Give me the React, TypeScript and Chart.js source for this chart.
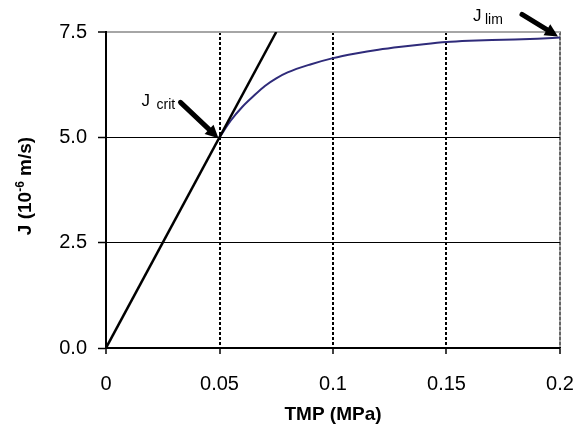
import React, { useEffect, useRef } from 'react';
import { Chart, registerables } from 'chart.js';

Chart.register(...registerables);

// ---- data ----
const xTickLabels = ['0', '0.05', '0.1', '0.15', '0.2'];
const yTickLabels = ['0.0', '2.5', '5.0', '7.5'];

const tangentTmp = [0, 0.075];
const tangentJ = [0, 7.5];

const fluxTmp = [0.05, 0.055, 0.06, 0.065, 0.07, 0.075, 0.08, 0.09, 0.1, 0.11, 0.12, 0.13, 0.14, 0.15, 0.16, 0.17, 0.18, 0.19, 0.2];
const fluxJ = [5.0, 5.4, 5.72, 5.98, 6.22, 6.4, 6.54, 6.73, 6.88, 6.99, 7.08, 7.15, 7.21, 7.26, 7.29, 7.31, 7.32, 7.34, 7.37];

const critTmp = 0.05;
const critJ = 5.0;
const limTmp = 0.2;
const limJ = 7.37;

const xTitle = 'TMP (MPa)';
const yTitleParts = ['J (10', '-6', ' m/s)'];
const critLabel = ['J', 'crit'];
const limLabel = ['J', 'lim'];

const FONT = "'Liberation Sans', Arial, sans-serif";

function drawArrow(ctx: CanvasRenderingContext2D, x1: number, y1: number, x2: number, y2: number) {
  const ang = Math.atan2(y2 - y1, x2 - x1);
  const head = 13;
  const hw = 6.5;
  const bx = x2 - head * Math.cos(ang);
  const by = y2 - head * Math.sin(ang);
  ctx.save();
  ctx.strokeStyle = '#000';
  ctx.fillStyle = '#000';
  ctx.lineWidth = 5;
  ctx.lineCap = 'round';
  ctx.beginPath();
  ctx.moveTo(x1, y1);
  ctx.lineTo(bx, by);
  ctx.stroke();
  ctx.beginPath();
  ctx.moveTo(x2, y2);
  ctx.lineTo(bx + hw * Math.sin(ang), by - hw * Math.cos(ang));
  ctx.lineTo(bx - hw * Math.sin(ang), by + hw * Math.cos(ang));
  ctx.closePath();
  ctx.fill();
  ctx.restore();
}

const decorPlugin = {
  id: 'decor',
  beforeDraw(chart: any) {
    const { ctx, chartArea } = chart;
    const { left, top, right, bottom } = chartArea;
    ctx.save();
    ctx.strokeStyle = '#a6a6a6';
    ctx.lineWidth = 2;
    ctx.beginPath();
    ctx.moveTo(left, top);
    ctx.lineTo(right, top);
    ctx.lineTo(right, bottom);
    ctx.stroke();
    ctx.restore();
  },
  afterDraw(chart: any) {
    const { ctx, chartArea, scales } = chart;
    const xs = scales.x;
    const ys = scales.y;
    ctx.save();
    ctx.fillStyle = '#000';
    ctx.textBaseline = 'alphabetic';

    // x title
    ctx.font = `bold 19px ${FONT}`;
    ctx.textAlign = 'center';
    ctx.fillText(xTitle, (chartArea.left + chartArea.right) / 2, 420);

    // y title (rotated)
    ctx.save();
    ctx.translate(31, (chartArea.top + chartArea.bottom) / 2 - 4);
    ctx.rotate(-Math.PI / 2);
    ctx.textAlign = 'left';
    ctx.font = `bold 19px ${FONT}`;
    const w1 = ctx.measureText(yTitleParts[0]).width;
    const w3 = ctx.measureText(yTitleParts[2]).width;
    ctx.font = `bold 12px ${FONT}`;
    const w2 = ctx.measureText(yTitleParts[1]).width;
    let sx = -(w1 + w2 + w3) / 2;
    ctx.font = `bold 19px ${FONT}`;
    ctx.fillText(yTitleParts[0], sx, 0);
    sx += w1;
    ctx.font = `bold 12px ${FONT}`;
    ctx.fillText(yTitleParts[1], sx, -7);
    sx += w2;
    ctx.font = `bold 19px ${FONT}`;
    ctx.fillText(yTitleParts[2], sx, 0);
    ctx.restore();

    // J crit annotation
    const cx = xs.getPixelForValue(critTmp);
    const cy = ys.getPixelForValue(critJ);
    drawArrow(ctx, cx - 39, cy - 35, cx - 1, cy + 1);
    ctx.textAlign = 'left';
    ctx.font = `17px ${FONT}`;
    ctx.fillText(critLabel[0], cx - 78, cy - 31);
    ctx.font = `14px ${FONT}`;
    ctx.fillText(critLabel[1], cx - 63, cy - 28);

    // J lim annotation
    const lx = xs.getPixelForValue(limTmp);
    const ly = ys.getPixelForValue(limJ);
    drawArrow(ctx, lx - 38, ly - 23, lx - 2, ly - 1);
    ctx.font = `17px ${FONT}`;
    ctx.fillText(limLabel[0], lx - 87, ly - 16);
    ctx.font = `14px ${FONT}`;
    ctx.fillText(limLabel[1], lx - 75, ly - 13);

    ctx.restore();
  },
};

export default function App() {
  const ref = useRef<HTMLCanvasElement>(null);

  useEffect(() => {
    const canvas = ref.current;
    if (!canvas) return;
    const chart = new Chart(canvas, {
      type: 'line',
      data: {
        datasets: [
          {
            label: 'tangent',
            data: tangentTmp.map((x, i) => ({ x, y: tangentJ[i] })),
            borderColor: '#000',
            borderWidth: 2.5,
            pointRadius: 0,
            tension: 0,
            fill: false,
          },
          {
            label: 'flux',
            data: fluxTmp.map((x, i) => ({ x, y: fluxJ[i] })),
            borderColor: '#2f2b7a',
            borderWidth: 2,
            pointRadius: 0,
            cubicInterpolationMode: 'monotone',
            fill: false,
          },
        ],
      },
      options: {
        responsive: false,
        animation: false,
        devicePixelRatio: 1,
        layout: { padding: { top: 32, right: 23, left: 0, bottom: 0 } },
        plugins: {
          legend: { display: false },
          tooltip: { enabled: false },
        },
        scales: {
          x: {
            type: 'linear',
            min: 0,
            max: 0.2,
            afterFit: (s: any) => {
              s.height = 78;
              s.paddingLeft = 0;
              s.paddingRight = 0;
            },
            ticks: {
              stepSize: 0.05,
              color: '#000',
              padding: 18,
              font: { family: FONT, size: 20 },
              callback: (_v: any, i: number) => xTickLabels[i],
              maxRotation: 0,
            },
            grid: {
              color: (c: any) => (c.index === 0 ? 'rgba(0,0,0,0)' : c.index === 4 ? '#666' : '#000'),
              lineWidth: 2,
              tickColor: '#000',
              tickLength: 6,
              tickWidth: 1.5,
            },
            border: { display: true, color: '#000', width: 1.5, dash: [3, 2] },
          },
          y: {
            type: 'linear',
            min: 0,
            max: 7.5,
            afterFit: (s: any) => {
              s.width = 106;
              s.paddingTop = 0;
              s.paddingBottom = 0;
            },
            ticks: {
              stepSize: 2.5,
              color: '#000',
              padding: 11,
              font: { family: FONT, size: 20 },
              callback: (_v: any, i: number) => yTickLabels[i],
            },
            grid: {
              color: (c: any) => (c.index === 3 ? '#a6a6a6' : '#000'),
              lineWidth: (c: any) => (c.index === 3 ? 2 : 1),
              tickColor: '#000',
              tickLength: 8,
              tickWidth: 1.5,
            },
            border: { display: true, color: '#000', width: 2 },
          },
        },
      },
      plugins: [decorPlugin],
    } as any);
    return () => chart.destroy();
  }, []);

  return (
    <div style={{ position: 'absolute', left: 0, top: 0, width: 583, height: 426, background: '#fff' }}>
      <canvas ref={ref} width={583} height={426} style={{ display: 'block' }} />
    </div>
  );
}
